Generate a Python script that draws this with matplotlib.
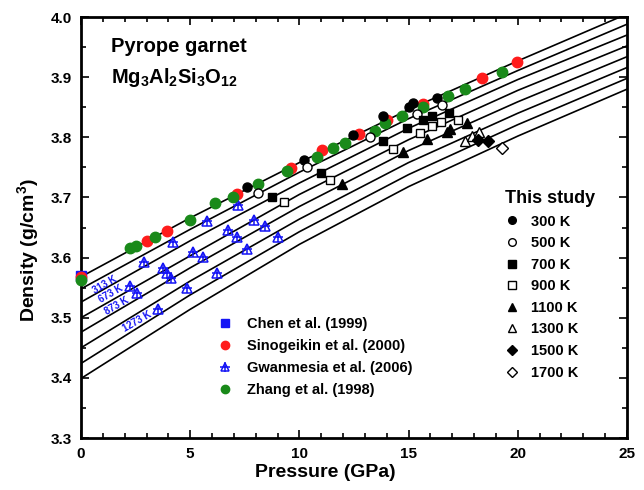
import matplotlib
matplotlib.use("Agg")
import matplotlib.pyplot as plt
from matplotlib.ticker import MultipleLocator, FormatStrFormatter

plt.rcParams['font.family'] = ['Liberation Sans', 'DejaVu Sans']
plt.rcParams['mathtext.fontset'] = 'custom'
plt.rcParams['mathtext.rm'] = 'Liberation Sans:bold'
plt.rcParams['mathtext.bf'] = 'Liberation Sans:bold'
plt.rcParams['mathtext.it'] = 'Liberation Sans:bold'

# Isotherms: density (g/cm3) at the pressure grid below
iso_p = [0, 5, 10, 15, 20, 25]
iso_300 = [3.568, 3.666, 3.758, 3.846, 3.927, 4.005]
iso_500 = [3.548, 3.647, 3.742, 3.831, 3.911, 3.988]
iso_700 = [3.526, 3.628, 3.724, 3.815, 3.896, 3.970]
iso_900 = [3.500, 3.603, 3.705, 3.796, 3.878, 3.952]
iso_1100 = [3.476, 3.583, 3.685, 3.778, 3.859, 3.934]
iso_1300 = [3.450, 3.561, 3.664, 3.758, 3.840, 3.916]
iso_1500 = [3.424, 3.538, 3.643, 3.738, 3.821, 3.898]
iso_1700 = [3.399, 3.514, 3.622, 3.718, 3.802, 3.880]

# This study
p300 = [7.59, 10.21, 12.47, 13.84, 15.03, 15.22, 16.29]
d300 = [3.718, 3.763, 3.804, 3.835, 3.851, 3.857, 3.865]
p500 = [8.09, 10.36, 13.23, 15.37, 16.55]
d500 = [3.708, 3.751, 3.800, 3.839, 3.853]
p700 = [8.73, 10.97, 13.81, 14.91, 15.67, 16.06, 16.86]
d700 = [3.701, 3.741, 3.794, 3.815, 3.829, 3.835, 3.841]
p900 = [9.31, 11.39, 14.30, 15.52, 16.06, 16.47, 17.28]
d900 = [3.693, 3.729, 3.780, 3.807, 3.819, 3.825, 3.828]
p1100 = [11.94, 14.76, 15.83, 16.75, 16.90, 17.66]
d1100 = [3.723, 3.776, 3.797, 3.808, 3.813, 3.823]
p1300 = [17.58, 17.89, 18.24]
d1300 = [3.794, 3.802, 3.808]
p1500 = [18.19, 18.65]
d1500 = [3.795, 3.794]
p1700 = [19.26]
d1700 = [3.783]

# Published data
chen_p = [0.0]
chen_d = [3.569]
sino_p = [0.0, 3.00, 3.92, 7.13, 9.60, 11.02, 12.74, 14.00, 15.64, 18.35, 19.95]
sino_d = [3.567, 3.628, 3.645, 3.706, 3.749, 3.779, 3.805, 3.829, 3.856, 3.898, 3.926]
gwan_p = [2.24, 2.55, 2.88, 3.54, 3.77, 3.95, 4.10, 4.20, 4.84, 5.14, 5.60, 5.76,
          6.21, 6.74, 7.13, 7.20, 7.59, 7.92, 8.42, 9.00]
gwan_d = [3.553, 3.541, 3.593, 3.514, 3.582, 3.574, 3.566, 3.626, 3.549, 3.610, 3.601, 3.660,
          3.575, 3.646, 3.635, 3.687, 3.614, 3.662, 3.652, 3.634]
zhang_p = [0.0, 2.25, 2.50, 3.39, 4.99, 6.14, 6.97, 8.12, 9.45, 10.82, 11.55, 12.09,
           13.46, 13.92, 14.68, 15.67, 16.82, 17.56, 19.26]
zhang_d = [3.562, 3.616, 3.619, 3.635, 3.662, 3.690, 3.700, 3.722, 3.744, 3.768, 3.782, 3.791,
           3.811, 3.823, 3.835, 3.850, 3.868, 3.880, 3.909]

# Isotherm annotations for the Gwanmesia et al. data
gw_labels = ['313 K', '673 K', '873 K', '1273 K']
gw_label_p = [1.10, 1.37, 1.63, 2.59]
gw_label_d = [3.554, 3.539, 3.520, 3.494]

fig = plt.figure(figsize=(6.44, 4.90), dpi=100)
ax = fig.add_axes([0.1258, 0.1061, 0.8478, 0.8592])

for iso in [iso_300, iso_500, iso_700, iso_900, iso_1100, iso_1300, iso_1500, iso_1700]:
    ax.plot(iso_p, iso, color='black', lw=1.2, zorder=1)

blue = '#1414f5'
red = '#ff1c1c'
green = '#1a8a1a'

h_chen, = ax.plot(chen_p, chen_d, 's', color=blue, ms=6.5, ls='none', zorder=3, clip_on=False)
h_sino, = ax.plot(sino_p, sino_d, 'o', color=red, ms=7.5, ls='none', zorder=3, clip_on=False)
g1, = ax.plot(gwan_p, gwan_d, '^', mfc='none', mec=blue, mew=1.1, ms=7, ls='none', zorder=3)
g2, = ax.plot(gwan_p, gwan_d, '+', color=blue, mew=1.1, ms=7, ls='none', zorder=3)
h_zhang, = ax.plot(zhang_p, zhang_d, 'o', color=green, ms=7.5, ls='none', zorder=4, clip_on=False)

mk = dict(ls='none', ms=6.5, mew=1.0, mec='black', zorder=5)
h300, = ax.plot(p300, d300, 'o', mfc='black', **mk)
h500, = ax.plot(p500, d500, 'o', mfc='white', **mk)
h700, = ax.plot(p700, d700, 's', mfc='black', **{**mk, 'ms': 6})
h900, = ax.plot(p900, d900, 's', mfc='white', **{**mk, 'ms': 6})
h1100, = ax.plot(p1100, d1100, '^', mfc='black', **{**mk, 'ms': 7})
h1300, = ax.plot(p1300, d1300, '^', mfc='white', **{**mk, 'ms': 7})
h1500, = ax.plot(p1500, d1500, 'D', mfc='black', **{**mk, 'ms': 6})
h1700, = ax.plot(p1700, d1700, 'D', mfc='white', **{**mk, 'ms': 6})

for lab, px, dy in zip(gw_labels, gw_label_p, gw_label_d):
    ax.text(px, dy, lab, color=blue, fontsize=7, fontweight='bold', rotation=30,
            ha='center', va='center', rotation_mode='anchor', zorder=6)

ax.set_xlim(0, 25)
ax.set_ylim(3.3, 4.0)
ax.xaxis.set_major_locator(MultipleLocator(5))
ax.xaxis.set_minor_locator(MultipleLocator(1))
ax.yaxis.set_major_locator(MultipleLocator(0.1))
ax.yaxis.set_minor_locator(MultipleLocator(0.05))
ax.yaxis.set_major_formatter(FormatStrFormatter('%.1f'))
ax.tick_params(which='both', direction='in', top=True, right=True, width=1.2)
ax.tick_params(which='major', length=6, labelsize=11, pad=6.5)
ax.tick_params(which='minor', length=3.5)
for t in ax.get_xticklabels() + ax.get_yticklabels():
    t.set_fontweight('bold')
for s in ax.spines.values():
    s.set_linewidth(2.0)

ax.set_xlabel('Pressure (GPa)', fontsize=14, fontweight='bold')
ax.set_ylabel(r'Density (g/cm$^{\mathbf{3}}$)', fontsize=14, fontweight='bold')
ax.xaxis.set_label_coords(0.447, -0.062)
ax.yaxis.set_label_coords(-0.074, 0.447)

ax.text(0.055, 0.93, 'Pyrope garnet', transform=ax.transAxes, fontsize=14.5,
        fontweight='bold', va='center', ha='left')
ax.text(0.055, 0.857, r'Mg$_{\mathbf{3}}$Al$_{\mathbf{2}}$Si$_{\mathbf{3}}$O$_{\mathbf{12}}$',
        transform=ax.transAxes, fontsize=14.5, fontweight='bold', va='center', ha='left')

leg1 = ax.legend([h300, h500, h700, h900, h1100, h1300, h1500, h1700],
                 ['300 K', '500 K', '700 K', '900 K', '1100 K', '1300 K', '1500 K', '1700 K'],
                 loc='upper left', bbox_to_anchor=(0.766, 0.603), frameon=False,
                 title='This study', alignment='left', handlelength=1.0, handletextpad=0.75,
                 labelspacing=0.52, borderaxespad=0,
                 prop={'weight': 'bold', 'size': 10.5},
                 title_fontproperties={'weight': 'bold', 'size': 13})
for h in leg1.legend_handles:
    h.set_markersize(5.5)
ax.add_artist(leg1)

leg2 = ax.legend([h_chen, h_sino, (g1, g2), h_zhang],
                 ['Chen et al. (1999)', 'Sinogeikin et al. (2000)',
                  'Gwanmesia et al. (2006)', 'Zhang et al. (1998)'],
                 loc='upper left', bbox_to_anchor=(0.24, 0.302), frameon=False,
                 handlelength=1.0, handletextpad=1.0, labelspacing=0.55, borderaxespad=0,
                 prop={'weight': 'bold', 'size': 10.5})
for h in leg2.legend_handles:
    try:
        h.set_markersize(6)
    except AttributeError:
        pass

fig.savefig('out.png', dpi=100)
